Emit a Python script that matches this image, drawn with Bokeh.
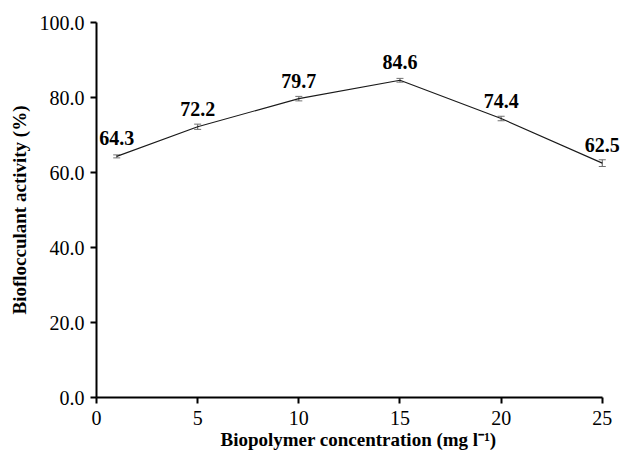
from bokeh.plotting import figure
from bokeh.models import ColumnDataSource, Whisker, Range1d, NumeralTickFormatter, FixedTicker, LabelSet
from bokeh.embed import file_html
from bokeh.resources import INLINE

concentration = [1, 5, 10, 15, 20, 25]
activity = [64.3, 72.2, 79.7, 84.6, 74.4, 62.5]
error = [0.4, 0.7, 0.6, 0.5, 0.6, 0.9]
labels = ["64.3", "72.2", "79.7", "84.6", "74.4", "62.5"]
x_ticks = [0, 5, 10, 15, 20, 25]
y_ticks = [0, 20, 40, 60, 80, 100]

src = ColumnDataSource(dict(
    x=concentration, y=activity,
    upper=[a + e for a, e in zip(activity, error)],
    lower=[a - e for a, e in zip(activity, error)],
    lab=labels,
))

FONT = "Liberation Serif"

p = figure(width=620, height=456, output_backend="svg", toolbar_location=None,
           x_range=Range1d(0, 25.9), y_range=Range1d(0, 100),
           min_border_left=96, min_border_right=0, min_border_top=22, min_border_bottom=59)
p.outline_line_color = None
p.grid.visible = False
p.background_fill_color = "white"
p.border_fill_color = "white"

p.line("x", "y", source=src, line_color="#1a1a1a", line_width=1.1)
w = Whisker(base="x", upper="upper", lower="lower", source=src,
            line_color="#707070", line_width=1.2)
w.upper_head.size = 7
w.lower_head.size = 7
w.upper_head.line_color = "#707070"
w.lower_head.line_color = "#707070"
p.add_layout(w)

p.add_layout(LabelSet(x="x", y="y", text="lab", source=src, y_offset=11,
                      text_align="center", text_baseline="bottom",
                      text_font=FONT, text_font_style="bold", text_font_size="20px",
                      text_color="black"))

for ax in (p.xaxis[0], p.yaxis[0]):
    ax.axis_line_color = "black"
    ax.axis_line_width = 2
    ax.major_tick_line_color = "black"
    ax.major_tick_line_width = 2
    ax.major_tick_out = 6
    ax.major_tick_in = 0
    ax.minor_tick_line_color = None
    ax.major_label_text_font = FONT
    ax.major_label_text_font_size = "20px"
    ax.major_label_text_color = "black"
    ax.axis_label_text_font = FONT
    ax.axis_label_text_font_style = "bold"
    ax.axis_label_text_font_size = "19px"
    ax.axis_label_text_color = "black"

p.xaxis.bounds = (0, 25)
p.xaxis.ticker = FixedTicker(ticks=x_ticks)
p.yaxis.ticker = FixedTicker(ticks=y_ticks)
p.yaxis.formatter = NumeralTickFormatter(format="0.0")
p.xaxis.axis_label = "Biopolymer concentration (mg l\u207b\u00b9)"
p.yaxis.axis_label = "Bioflocculant activity (%)"
p.xaxis.major_label_standoff = 7
p.yaxis.major_label_standoff = 6
p.xaxis.axis_label_standoff = 1
p.yaxis.axis_label_standoff = 7

open("out.html", "w").write(file_html(p, INLINE))
